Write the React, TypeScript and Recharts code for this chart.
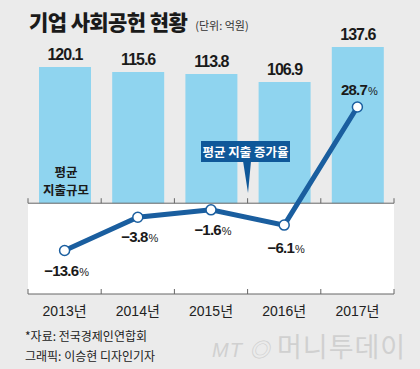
import React from 'react';
import {
  ComposedChart,
  Bar,
  Line,
  XAxis,
  YAxis,
  LabelList,
  ReferenceArea,
  ReferenceLine,
} from 'recharts';

const years = ['2013년', '2014년', '2015년', '2016년', '2017년'];
const avgSpend = [120.1, 115.6, 113.8, 106.9, 137.6];
const growthRate = [-13.6, -3.8, -1.6, -6.1, 28.7];

const data = years.map((year, i) => ({ year, spend: avgSpend[i], rate: growthRate[i] }));

const W = 420;
const H = 369;
const margin = { top: 33, right: 26, bottom: 45, left: 28 };
const xAxisHeight = 30;
const plotW = W - margin.left - margin.right;
const plotH = H - margin.top - margin.bottom - xAxisHeight;
const band = plotW / years.length;
const barDomain: [number, number] = [-80, 150];
const rateDomain: [number, number] = [-26.4, 50.5];
const zeroFromBottom = (plotH * (0 - barDomain[0])) / (barDomain[1] - barDomain[0]);

const BG = '#ebebeb';
const BAR = '#8fd4ef';
const LINE = '#1a5e9f';
const AXIS = '#666';
const FONT = 'Arial, "Liberation Sans", "Noto Sans CJK KR", sans-serif';
const KFONT = '"Noto Sans CJK KR", sans-serif';

const fmt = (v: number) => (v < 0 ? '−' + Math.abs(v).toFixed(1) : v.toFixed(1));

function YearTick(props: any) {
  const { x, y, payload, index } = props;
  const left = x - band / 2;
  const right = x + band / 2;
  const topY = y - zeroFromBottom;
  const last = index === years.length - 1;
  return (
    <g>
      <line x1={left} x2={left} y1={y - 5} y2={y} stroke={AXIS} />
      <line x1={left} x2={left} y1={topY - 5} y2={topY} stroke={AXIS} />
      {last && <line x1={right} x2={right} y1={y - 5} y2={y} stroke={AXIS} />}
      {last && <line x1={right} x2={right} y1={topY - 5} y2={topY} stroke={AXIS} />}
      <text x={x} y={y + 22} textAnchor="middle" fontSize={14} fill="#222" fontFamily={FONT}>
        {payload.value}
      </text>
    </g>
  );
}

function RateLabel(props: any) {
  const { x, y, value, index } = props;
  const above = index === growthRate.length - 1;
  const ty = above ? y - 12 : y + (index === 3 ? 28 : 25);
  return (
    <text x={x + 2} y={ty} textAnchor="middle" fontFamily={FONT} fill="#1a1a1a">
      <tspan fontSize={15} fontWeight={700} letterSpacing={-0.8}>
        {fmt(value)}
      </tspan>
      <tspan fontSize={11} dx={1}>
        %
      </tspan>
    </text>
  );
}

function RateDot(props: any) {
  const { cx, cy } = props;
  return <circle cx={cx} cy={cy} r={5} fill="#fff" stroke={LINE} strokeWidth={1.5} />;
}

export default function App() {
  return (
    <div style={{ width: W, height: H, background: BG, position: 'relative', overflow: 'hidden' }}>
      <style>{'body{margin:0}'}</style>
      <div
        style={{
          position: 'absolute',
          left: 29,
          top: 9,
          fontFamily: KFONT,
          fontWeight: 900,
          fontSize: 21,
          letterSpacing: -0.6,
          color: '#1a1a1a',
          lineHeight: 1.2,
          whiteSpace: 'nowrap',
        }}
      >
        기업 사회공헌 현황
        <span style={{ fontSize: 11, fontWeight: 400, marginLeft: 8, letterSpacing: 0, color: '#333' }}>
          (단위: 억원)
        </span>
      </div>

      <ComposedChart width={W} height={H} data={data} margin={margin} style={{ position: 'absolute', left: 0, top: 0 }}>
        <XAxis
          dataKey="year"
          height={xAxisHeight}
          tickSize={0}
          tickMargin={0}
          tickLine={false}
          axisLine={{ stroke: AXIS }}
          tick={<YearTick />}
          interval={0}
        />
        <YAxis yAxisId="bar" hide domain={barDomain} />
        <YAxis yAxisId="rate" hide domain={rateDomain} orientation="right" />
        <ReferenceArea yAxisId="bar" y1={barDomain[0]} y2={0} fill="#fff" fillOpacity={1} stroke="none" />
        <Bar yAxisId="bar" dataKey="spend" fill={BAR} barSize={52} isAnimationActive={false}>
          <LabelList
            dataKey="spend"
            position="top"
            offset={7}
            formatter={(v: any) => Number(v).toFixed(1)}
            style={{ fontFamily: FONT, fontSize: 16, fontWeight: 700, fill: '#1a1a1a', letterSpacing: -1 }}
          />
        </Bar>
        <ReferenceLine yAxisId="bar" y={0} stroke={AXIS} />
        <Line
          yAxisId="rate"
          dataKey="rate"
          stroke={LINE}
          strokeWidth={5}
          dot={<RateDot />}
          activeDot={false}
          isAnimationActive={false}
        >
          <LabelList dataKey="rate" content={<RateLabel />} />
        </Line>
      </ComposedChart>

      <div
        style={{
          position: 'absolute',
          left: 40,
          top: 163,
          width: 52,
          textAlign: 'center',
          fontFamily: KFONT,
          fontWeight: 700,
          fontSize: 12.5,
          lineHeight: '18px',
          color: '#1a1a1a',
        }}
      >
        평균
        <br />
        지출규모
      </div>

      <div
        style={{
          position: 'absolute',
          left: 201,
          top: 141,
          width: 89,
          height: 21,
          background: '#0f5899',
          color: '#fff',
          fontFamily: KFONT,
          fontWeight: 700,
          fontSize: 12.5,
          lineHeight: '21px',
          textAlign: 'center',
          whiteSpace: 'nowrap',
        }}
      >
        평균 지출 증가율
      </div>
      <svg style={{ position: 'absolute', left: 0, top: 0 }} width={W} height={H} pointerEvents="none">
        <polygon points="243,161 251,161 248,193" fill="#0f5899" />
      </svg>

      <div
        style={{
          position: 'absolute',
          left: 25,
          top: 326,
          fontFamily: KFONT,
          fontSize: 12,
          lineHeight: '20px',
          color: '#222',
          whiteSpace: 'nowrap',
        }}
      >
        *자료: 전국경제인연합회
        <br />
        그래픽: 이승현 디자인기자
      </div>
      <div
        style={{
          position: 'absolute',
          left: 212,
          top: 331,
          fontFamily: KFONT,
          fontSize: 27,
          lineHeight: '30px',
          color: '#d0d0d0',
          whiteSpace: 'nowrap',
          letterSpacing: 1,
        }}
      >
        <span style={{ fontStyle: 'italic', fontFamily: FONT, fontSize: 20 }}>MT ◎ </span>머니투데이
      </div>
    </div>
  );
}
